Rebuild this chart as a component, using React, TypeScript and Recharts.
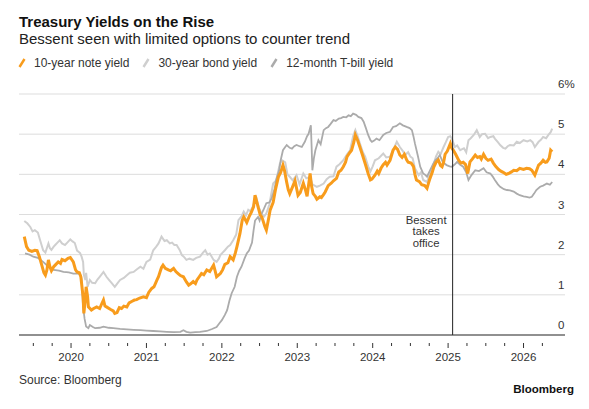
import React from "react";
import { LineChart, Line, XAxis, YAxis, CartesianGrid, ReferenceLine } from "recharts";

const title = "Treasury Yields on the Rise";
const subtitle = "Bessent seen with limited options to counter trend";
const source = "Source: Bloomberg";
const seriesNames = ["10-year note yield", "30-year bond yield", "12-month T-bill yield"];
const seriesColors = ["#f89c1c", "#cfcfcf", "#ababab"];
const yearLabels = [2020, 2021, 2022, 2023, 2024, 2025, 2026];
const quarterTicks = [
  2019.5, 2019.75, 2020, 2020.25, 2020.5, 2020.75, 2021, 2021.25, 2021.5, 2021.75,
  2022, 2022.25, 2022.5, 2022.75, 2023, 2023.25, 2023.5, 2023.75, 2024, 2024.25,
  2024.5, 2024.75, 2025, 2025.25, 2025.5, 2025.75, 2026, 2026.25,
];
const yTicks = [0, 1, 2, 3, 4, 5, 6];
const xDomain = [2019.31, 2026.55];
const bessentDate = 2025.06;
const bessentLabel = ["Bessent", "takes", "office"];

// [decimal year, yield %]
const tenYear = [
  [2019.38, 2.45], [2019.41, 2.2], [2019.44, 2.11], [2019.48, 2.08], [2019.52, 2.11], [2019.55, 2.1],
  [2019.58, 1.95], [2019.61, 1.75], [2019.64, 1.55], [2019.66, 1.49], [2019.68, 1.62], [2019.7, 1.87],
  [2019.72, 1.7], [2019.74, 1.6], [2019.77, 1.7], [2019.79, 1.74], [2019.83, 1.82], [2019.86, 1.78],
  [2019.88, 1.88], [2019.92, 1.85], [2019.96, 1.91], [2019.99, 1.93], [2020.03, 1.82], [2020.06, 1.62],
  [2020.08, 1.57], [2020.11, 1.55], [2020.13, 1.45], [2020.16, 0.95], [2020.17, 0.54], [2020.19, 0.9],
  [2020.2, 1.2], [2020.22, 0.95], [2020.23, 0.7], [2020.27, 0.62], [2020.3, 0.66], [2020.34, 0.7],
  [2020.38, 0.66], [2020.41, 0.79], [2020.43, 0.87], [2020.45, 0.72], [2020.47, 0.7], [2020.52, 0.64],
  [2020.56, 0.6], [2020.58, 0.54], [2020.61, 0.56], [2020.64, 0.68], [2020.67, 0.66], [2020.7, 0.72],
  [2020.74, 0.7], [2020.77, 0.8], [2020.81, 0.84], [2020.84, 0.87], [2020.87, 0.88], [2020.91, 0.92],
  [2020.96, 0.95], [2021.0, 0.93], [2021.03, 1.06], [2021.07, 1.16], [2021.1, 1.2], [2021.14, 1.37],
  [2021.16, 1.45], [2021.18, 1.57], [2021.2, 1.68], [2021.22, 1.74], [2021.25, 1.66], [2021.29, 1.62],
  [2021.32, 1.6], [2021.36, 1.66], [2021.39, 1.58], [2021.42, 1.53], [2021.45, 1.48], [2021.49, 1.45],
  [2021.53, 1.32], [2021.56, 1.24], [2021.59, 1.28], [2021.62, 1.33], [2021.65, 1.28], [2021.67, 1.37],
  [2021.7, 1.45], [2021.73, 1.53], [2021.76, 1.5], [2021.8, 1.62], [2021.84, 1.58], [2021.89, 1.74],
  [2021.91, 1.6], [2021.93, 1.45], [2021.98, 1.53], [2022.01, 1.62], [2022.04, 1.76], [2022.08, 1.8],
  [2022.11, 1.95], [2022.15, 1.87], [2022.18, 2.05], [2022.2, 2.2], [2022.24, 2.53], [2022.27, 2.86],
  [2022.29, 2.94], [2022.33, 2.8], [2022.36, 2.94], [2022.39, 3.05], [2022.42, 3.19], [2022.44, 3.48],
  [2022.48, 3.19], [2022.51, 2.98], [2022.53, 2.94], [2022.57, 2.7], [2022.59, 2.61], [2022.62, 2.9],
  [2022.64, 3.11], [2022.68, 3.3], [2022.71, 3.61], [2022.75, 3.94], [2022.78, 4.05], [2022.81, 4.23],
  [2022.83, 4.1], [2022.86, 3.8], [2022.88, 3.62], [2022.9, 3.52], [2022.94, 3.7], [2022.97, 3.84],
  [2023.01, 3.48], [2023.04, 3.55], [2023.08, 3.78], [2023.11, 3.6], [2023.13, 3.45], [2023.17, 4.02],
  [2023.19, 3.7], [2023.21, 3.52], [2023.24, 3.45], [2023.26, 3.38], [2023.3, 3.44], [2023.32, 3.42],
  [2023.35, 3.5], [2023.37, 3.56], [2023.41, 3.72], [2023.45, 3.78], [2023.48, 3.84], [2023.52, 3.9],
  [2023.55, 4.06], [2023.58, 4.1], [2023.61, 4.19], [2023.64, 4.3], [2023.66, 4.44], [2023.7, 4.55],
  [2023.72, 4.6], [2023.75, 4.8], [2023.77, 4.98], [2023.8, 4.85], [2023.83, 4.68], [2023.87, 4.45],
  [2023.9, 4.27], [2023.94, 4.02], [2023.97, 3.86], [2023.99, 3.88], [2024.03, 3.98], [2024.06, 4.08],
  [2024.08, 4.02], [2024.11, 4.15], [2024.14, 4.24], [2024.17, 4.3], [2024.19, 4.23], [2024.23, 4.35],
  [2024.27, 4.6], [2024.3, 4.68], [2024.33, 4.62], [2024.36, 4.48], [2024.39, 4.42], [2024.42, 4.5],
  [2024.45, 4.36], [2024.47, 4.3], [2024.51, 4.28], [2024.54, 4.2], [2024.56, 4.0], [2024.58, 3.86],
  [2024.62, 3.82], [2024.65, 3.74], [2024.69, 3.72], [2024.72, 3.65], [2024.74, 3.78], [2024.76, 3.9],
  [2024.79, 4.05], [2024.81, 4.18], [2024.84, 4.3], [2024.87, 4.36], [2024.9, 4.22], [2024.92, 4.19],
  [2024.94, 4.3], [2024.96, 4.5], [2024.99, 4.58], [2025.03, 4.77], [2025.05, 4.65], [2025.07, 4.6],
  [2025.1, 4.5], [2025.14, 4.35], [2025.17, 4.28], [2025.2, 4.3], [2025.23, 4.25], [2025.26, 4.02],
  [2025.29, 4.31], [2025.32, 4.38], [2025.36, 4.48], [2025.39, 4.42], [2025.42, 4.44], [2025.44, 4.38],
  [2025.47, 4.5], [2025.5, 4.4], [2025.53, 4.35], [2025.57, 4.38], [2025.6, 4.28], [2025.63, 4.2],
  [2025.67, 4.12], [2025.7, 4.08], [2025.73, 4.05], [2025.77, 4.0], [2025.8, 4.02], [2025.84, 4.06],
  [2025.87, 4.1], [2025.91, 4.09], [2025.95, 4.15], [2026.0, 4.12], [2026.04, 4.15], [2026.08, 4.14],
  [2026.11, 4.1], [2026.15, 3.98], [2026.2, 4.23], [2026.23, 4.28], [2026.26, 4.35], [2026.29, 4.3],
  [2026.31, 4.31], [2026.34, 4.4], [2026.36, 4.6], [2026.38, 4.56],
];

const thirtyYear = [
  [2019.38, 2.84], [2019.42, 2.78], [2019.46, 2.69], [2019.49, 2.58], [2019.52, 2.61], [2019.56, 2.55],
  [2019.59, 2.36], [2019.63, 2.11], [2019.66, 2.05], [2019.7, 2.28], [2019.72, 2.16], [2019.74, 2.12],
  [2019.77, 2.2], [2019.79, 2.24], [2019.82, 2.3], [2019.85, 2.36], [2019.88, 2.28], [2019.92, 2.24],
  [2019.95, 2.3], [2019.99, 2.38], [2020.02, 2.33], [2020.05, 2.29], [2020.08, 2.1], [2020.12, 2.04],
  [2020.14, 1.95], [2020.16, 1.82], [2020.17, 1.5], [2020.19, 1.37], [2020.2, 1.55], [2020.22, 1.2],
  [2020.25, 1.37], [2020.28, 1.3], [2020.32, 1.29], [2020.35, 1.38], [2020.38, 1.45], [2020.43, 1.57],
  [2020.47, 1.45], [2020.5, 1.38], [2020.54, 1.29], [2020.58, 1.2], [2020.62, 1.3], [2020.65, 1.37],
  [2020.7, 1.42], [2020.74, 1.49], [2020.78, 1.55], [2020.83, 1.57], [2020.87, 1.63], [2020.92, 1.7],
  [2020.96, 1.65], [2021.0, 1.82], [2021.05, 1.88], [2021.09, 2.11], [2021.13, 2.2], [2021.16, 2.28],
  [2021.2, 2.45], [2021.24, 2.34], [2021.27, 2.36], [2021.31, 2.28], [2021.34, 2.3], [2021.37, 2.24],
  [2021.4, 2.24], [2021.44, 2.12], [2021.47, 1.99], [2021.5, 1.94], [2021.53, 1.87], [2021.57, 1.9],
  [2021.62, 1.87], [2021.66, 1.92], [2021.71, 1.95], [2021.75, 2.05], [2021.78, 2.11], [2021.81, 2.0],
  [2021.84, 2.03], [2021.89, 1.87], [2021.93, 1.82], [2021.96, 1.9], [2021.98, 1.99], [2022.01, 2.05],
  [2022.04, 2.11], [2022.08, 2.2], [2022.11, 2.24], [2022.15, 2.36], [2022.19, 2.5], [2022.22, 2.86],
  [2022.26, 2.95], [2022.29, 3.07], [2022.32, 2.98], [2022.35, 3.12], [2022.38, 3.08], [2022.41, 3.2],
  [2022.44, 3.35], [2022.46, 3.4], [2022.49, 3.18], [2022.53, 3.0], [2022.56, 2.95], [2022.59, 3.03],
  [2022.63, 3.25], [2022.68, 3.77], [2022.72, 3.85], [2022.77, 4.27], [2022.8, 4.35], [2022.84, 4.3],
  [2022.87, 4.0], [2022.9, 3.94], [2022.94, 3.85], [2022.99, 3.98], [2023.03, 3.75], [2023.08, 4.02],
  [2023.12, 3.9], [2023.17, 3.94], [2023.2, 3.75], [2023.26, 3.69], [2023.3, 3.72], [2023.35, 3.77],
  [2023.39, 3.88], [2023.43, 3.94], [2023.48, 3.95], [2023.52, 4.19], [2023.56, 4.25], [2023.61, 4.35],
  [2023.66, 4.5], [2023.7, 4.6], [2023.74, 4.95], [2023.77, 5.1], [2023.8, 4.95], [2023.83, 4.77],
  [2023.87, 4.55], [2023.9, 4.44], [2023.94, 4.2], [2023.97, 4.07], [2024.0, 4.2], [2024.03, 4.35],
  [2024.08, 4.4], [2024.14, 4.52], [2024.18, 4.42], [2024.23, 4.44], [2024.27, 4.6], [2024.32, 4.81],
  [2024.36, 4.68], [2024.4, 4.58], [2024.43, 4.48], [2024.47, 4.55], [2024.5, 4.44], [2024.53, 4.4],
  [2024.56, 4.15], [2024.61, 3.98], [2024.64, 4.05], [2024.67, 3.86], [2024.72, 3.81], [2024.76, 4.02],
  [2024.79, 4.15], [2024.81, 4.27], [2024.84, 4.45], [2024.87, 4.56], [2024.9, 4.5], [2024.94, 4.68],
  [2024.97, 4.8], [2025.0, 4.93], [2025.03, 4.95], [2025.05, 4.89], [2025.09, 4.68], [2025.12, 4.72],
  [2025.16, 4.6], [2025.21, 4.65], [2025.24, 4.55], [2025.27, 4.85], [2025.3, 4.9], [2025.34, 4.98],
  [2025.38, 5.1], [2025.42, 4.93], [2025.45, 5.0], [2025.49, 5.01], [2025.53, 4.9], [2025.56, 4.93],
  [2025.6, 4.95], [2025.62, 4.89], [2025.66, 4.8], [2025.69, 4.73], [2025.73, 4.66], [2025.76, 4.64],
  [2025.79, 4.7], [2025.82, 4.73], [2025.87, 4.72], [2025.91, 4.81], [2025.95, 4.78], [2026.0, 4.85],
  [2026.05, 4.82], [2026.09, 4.85], [2026.12, 4.8], [2026.15, 4.68], [2026.2, 4.81], [2026.23, 4.86],
  [2026.26, 4.93], [2026.3, 4.9], [2026.33, 4.98], [2026.36, 5.05], [2026.38, 5.14],
];

const twelveMonth = [
  [2019.39, 2.03], [2019.45, 2.0], [2019.5, 1.95], [2019.56, 1.92], [2019.63, 1.82], [2019.7, 1.7],
  [2019.77, 1.62], [2019.84, 1.6], [2019.9, 1.57], [2019.97, 1.56], [2020.03, 1.53], [2020.1, 1.53],
  [2020.13, 1.48], [2020.14, 1.37], [2020.16, 0.7], [2020.18, 0.4], [2020.2, 0.21], [2020.23, 0.17],
  [2020.25, 0.25], [2020.29, 0.2], [2020.32, 0.17], [2020.38, 0.18], [2020.43, 0.21], [2020.5, 0.18],
  [2020.56, 0.17], [2020.65, 0.15], [2020.74, 0.14], [2020.83, 0.13], [2020.92, 0.12], [2021.0, 0.11],
  [2021.09, 0.1], [2021.18, 0.09], [2021.27, 0.08], [2021.36, 0.07], [2021.45, 0.08], [2021.49, 0.12],
  [2021.53, 0.08], [2021.58, 0.06], [2021.65, 0.07], [2021.71, 0.08], [2021.8, 0.1], [2021.87, 0.15],
  [2021.93, 0.2], [2021.97, 0.3], [2022.0, 0.37], [2022.04, 0.5], [2022.07, 0.62], [2022.1, 0.85],
  [2022.13, 1.04], [2022.17, 1.2], [2022.2, 1.45], [2022.23, 1.6], [2022.26, 1.7], [2022.3, 1.9],
  [2022.33, 2.03], [2022.36, 2.1], [2022.4, 2.3], [2022.42, 2.6], [2022.44, 2.85], [2022.48, 2.94],
  [2022.5, 2.85], [2022.53, 3.03], [2022.56, 3.15], [2022.59, 3.28], [2022.63, 3.3], [2022.66, 3.4],
  [2022.7, 3.65], [2022.72, 3.86], [2022.76, 4.1], [2022.78, 4.35], [2022.81, 4.6], [2022.84, 4.68],
  [2022.86, 4.73], [2022.9, 4.66], [2022.93, 4.64], [2022.96, 4.7], [2022.99, 4.73], [2023.03, 4.7],
  [2023.06, 4.68], [2023.1, 4.81], [2023.13, 4.95], [2023.15, 5.01], [2023.18, 5.22], [2023.19, 4.7],
  [2023.2, 4.1], [2023.22, 4.4], [2023.24, 4.6], [2023.28, 4.85], [2023.31, 4.75], [2023.35, 5.1],
  [2023.38, 5.15], [2023.41, 5.18], [2023.44, 5.25], [2023.48, 5.35], [2023.51, 5.33], [2023.55, 5.39],
  [2023.58, 5.4], [2023.61, 5.43], [2023.65, 5.42], [2023.68, 5.47], [2023.71, 5.45], [2023.74, 5.51],
  [2023.78, 5.48], [2023.81, 5.43], [2023.85, 5.4], [2023.88, 5.31], [2023.91, 5.15], [2023.94, 4.98],
  [2023.97, 4.85], [2023.99, 4.81], [2024.02, 4.84], [2024.05, 4.89], [2024.09, 4.85], [2024.14, 4.98],
  [2024.18, 5.03], [2024.23, 5.06], [2024.27, 5.18], [2024.31, 5.2], [2024.36, 5.27], [2024.4, 5.22],
  [2024.45, 5.18], [2024.49, 5.15], [2024.52, 5.1], [2024.54, 4.95], [2024.56, 4.77], [2024.6, 4.45],
  [2024.63, 4.19], [2024.67, 4.02], [2024.7, 3.98], [2024.72, 3.94], [2024.76, 4.1], [2024.8, 4.25],
  [2024.83, 4.35], [2024.86, 4.4], [2024.89, 4.48], [2024.93, 4.3], [2024.98, 4.23], [2025.02, 4.2],
  [2025.05, 4.19], [2025.09, 4.25], [2025.12, 4.31], [2025.16, 4.24], [2025.2, 4.19], [2025.24, 4.05],
  [2025.27, 3.86], [2025.31, 3.98], [2025.36, 4.1], [2025.41, 4.08], [2025.47, 4.15], [2025.51, 4.05],
  [2025.56, 4.02], [2025.59, 3.95], [2025.62, 3.86], [2025.66, 3.75], [2025.69, 3.69], [2025.74, 3.63],
  [2025.78, 3.61], [2025.82, 3.6], [2025.87, 3.57], [2025.91, 3.52], [2025.95, 3.48], [2026.0, 3.45],
  [2026.04, 3.44], [2026.08, 3.42], [2026.11, 3.44], [2026.14, 3.52], [2026.17, 3.61], [2026.22, 3.69],
  [2026.26, 3.72], [2026.31, 3.77], [2026.35, 3.74], [2026.38, 3.81],
];

const toRows = (pairs: number[][]) => pairs.map(([t, v]) => ({ t, v }));

const FONT = "'Liberation Sans', Arial, Helvetica, sans-serif";

const XTick = (props: any) => {
  const { x, y, payload } = props;
  const isYear = Math.abs(payload.value - Math.round(payload.value)) < 1e-6;
  const label = yearLabels.find((yr) => yr === Math.round(payload.value));
  return (
    <g>
      <line x1={x} x2={x} y1={y} y2={y + (isYear ? 5 : 3)} stroke="#333" strokeWidth={1} />
      {isYear && label !== undefined ? (
        <text x={x} y={y + 18} textAnchor="middle" fontSize={11.5} fill="#333" fontFamily={FONT}>
          {String(label)}
        </text>
      ) : null}
    </g>
  );
};

const YTick = (props: any) => {
  const { x, y, payload } = props;
  const txt = payload.value === 6 ? "6%" : String(payload.value);
  return (
    <text x={x - 7} y={y - 6} textAnchor="start" fontSize={11.5} fill="#333" fontFamily={FONT}>
      {txt}
    </text>
  );
};

const BessentLabel = (props: any) => {
  const vb = props.viewBox || {};
  const cx = (vb.x || 0) - 26.5;
  const top = vb.y || 0;
  return (
    <text textAnchor="middle" fontSize={11.3} fill="#333" fontFamily={FONT}>
      {bessentLabel.map((s, i) => (
        <tspan key={s} x={cx} y={top + 130 + i * 11.4}>
          {s}
        </tspan>
      ))}
    </text>
  );
};

const LegendIcon = ({ color }: { color: string }) => (
  <svg width={8} height={10} style={{ display: "block" }}>
    <line x1={1.5} y1={9} x2={6.5} y2={1} stroke={color} strokeWidth={2.4} strokeLinecap="butt" />
  </svg>
);

export default function App() {
  return (
    <div style={{ position: "absolute", left: 0, top: 0, width: 589, height: 409, background: "#fff", fontFamily: FONT }}>
      <LineChart
        width={589}
        height={409}
        margin={{ top: 94, right: 0, left: 19, bottom: 44 }}
      >
        <CartesianGrid horizontal={true} vertical={false} stroke="#dddddd" strokeWidth={1} />
        <XAxis
          dataKey="t"
          type="number"
          domain={xDomain}
          allowDataOverflow
          ticks={quarterTicks}
          interval={0}
          height={30}
          axisLine={{ stroke: "#333", strokeWidth: 1 }}
          tickLine={false}
          tick={<XTick />}
        />
        <YAxis
          orientation="right"
          type="number"
          domain={[0, 6]}
          ticks={yTicks}
          width={24}
          axisLine={false}
          tickLine={false}
          tickSize={0}
          tickMargin={0}
          tick={<YTick />}
          interval={0}
        />
        <Line
          data={toRows(thirtyYear)}
          dataKey="v"
          name={seriesNames[1]}
          stroke={seriesColors[1]}
          strokeWidth={2}
          dot={false}
          activeDot={false}
          type="linear"
          isAnimationActive={false}
        />
        <Line
          data={toRows(twelveMonth)}
          dataKey="v"
          name={seriesNames[2]}
          stroke={seriesColors[2]}
          strokeWidth={1.8}
          dot={false}
          activeDot={false}
          type="linear"
          isAnimationActive={false}
        />
        <Line
          data={toRows(tenYear)}
          dataKey="v"
          name={seriesNames[0]}
          stroke={seriesColors[0]}
          strokeWidth={3}
          dot={false}
          activeDot={false}
          type="linear"
          isAnimationActive={false}
        />
        <ReferenceLine x={bessentDate} stroke="#222" strokeWidth={1} label={<BessentLabel />} />
      </LineChart>

      <div style={{ position: "absolute", left: 19, top: 14, fontSize: 15, lineHeight: "15px", fontWeight: 700, color: "#111", whiteSpace: "nowrap" }}>
        {title}
      </div>
      <div style={{ position: "absolute", left: 19, top: 30.6, fontSize: 15, lineHeight: "15px", color: "#222", whiteSpace: "nowrap" }}>
        {subtitle}
      </div>
      <div style={{ position: "absolute", left: 18, top: 56.5, display: "flex", alignItems: "center", fontSize: 12, lineHeight: "12px", color: "#333", whiteSpace: "nowrap" }}>
        {seriesNames.map((n, i) => (
          <div key={n} style={{ display: "flex", alignItems: "center", marginRight: 13 }}>
            <LegendIcon color={seriesColors[i]} />
            <span style={{ marginLeft: 8 }}>{n}</span>
          </div>
        ))}
      </div>
      <div style={{ position: "absolute", left: 19, top: 373.8, fontSize: 12, lineHeight: "12px", color: "#333", whiteSpace: "nowrap" }}>
        {source}
      </div>
      <div style={{ position: "absolute", right: 15, top: 384.3, fontSize: 11.5, lineHeight: "11.5px", fontWeight: 700, color: "#111", whiteSpace: "nowrap" }}>
        Bloomberg
      </div>
    </div>
  );
}
